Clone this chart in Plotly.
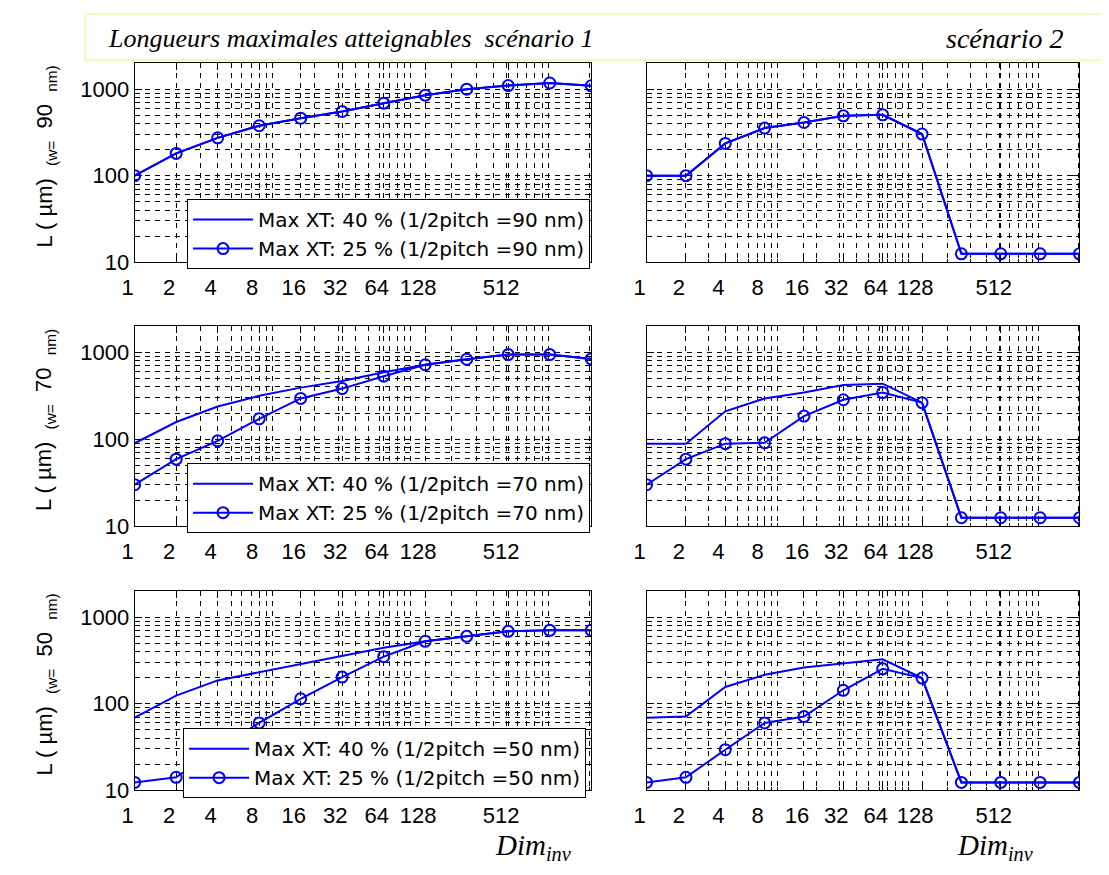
import plotly.graph_objects as go

# ---------------- data ----------------
dim_inv = [1, 2, 4, 8, 16, 32, 64, 128, 256, 512, 1024, 2048]
xtick_vals = [1, 2, 4, 8, 16, 32, 64, 128, 512]
xtick_text = ["1", "2", "4", "8", "16", "32", "64", "128", "512"]
ytick_vals = [10, 100, 1000]
ytick_text = ["10", "100", "1000"]
pitches = [90, 70, 50]

# scenario 1 (left column)
s1_p90_xt40 = [100, 181, 274, 378, 462, 552, 689, 853, 1000, 1100, 1180, 1095]
s1_p90_xt25 = [100, 181, 274, 378, 462, 552, 689, 853, 1000, 1100, 1180, 1095]
s1_p70_xt40 = [90, 158, 238, 316, 393, 467, 590, 720, 833, 942, 942, 841]
s1_p70_xt25 = [30, 59, 96, 172, 295, 383, 532, 720, 833, 942, 942, 841]
s1_p50_xt40 = [69, 124, 186, 230, 286, 356, 443, 527, 601, 687, 705, 705]
s1_p50_xt25 = [12.3, 14.1, 30, 60, 114, 203, 350, 527, 601, 687, 705, 705]

# scenario 2 (right column)
s2_p90_xt40 = [100, 100, 236, 355, 412, 492, 505, 303, 12.5, 12.5, 12.5, 12.5]
s2_p90_xt25 = [100, 100, 236, 355, 412, 492, 505, 303, 12.5, 12.5, 12.5, 12.5]
s2_p70_xt40 = [89, 89, 210, 295, 345, 421, 436, 264, 12.5, 12.5, 12.5, 12.5]
s2_p70_xt25 = [30, 59, 89, 91, 185, 285, 345, 264, 12.5, 12.5, 12.5, 12.5]
s2_p50_xt40 = [69, 71, 156, 216, 262, 294, 326, 198, 12.3, 12.3, 12.3, 12.3]
s2_p50_xt25 = [12.3, 14.1, 29.4, 60, 71, 143, 253, 198, 12.3, 12.3, 12.3, 12.3]

series = [
    (s1_p90_xt40, s1_p90_xt25, s2_p90_xt40, s2_p90_xt25),
    (s1_p70_xt40, s1_p70_xt25, s2_p70_xt40, s2_p70_xt25),
    (s1_p50_xt40, s1_p50_xt25, s2_p50_xt40, s2_p50_xt25),
]

# ---------------- layout helpers ----------------
W, H = 1109, 875
BLUE = "#0000ff"
SANS = "Liberation Sans, Arial, sans-serif"
LEGF = "DejaVu Sans, Liberation Sans, sans-serif"
SERIF = "Liberation Serif, Times New Roman, serif"
NB = "\u00a0"

col_px = [(115, 577), (633, 1071)]
row_px = [(56, 258), (323, 526), (592, 794)]
leg_px = [(168, 194), (168, 462), (164, 731)]


def px_x(p):
    return p / W


def px_y(p):
    return 1 - p / H


x_minor = [n * 10 ** k for k in range(0, 4) for n in range(1, 10) if n * 10 ** k <= 2048]
y_minor = [n * 10 ** k for k in range(1, 4) for n in range(1, 10) if n * 10 ** k <= 2000]

DASH = "5px,5px"
grid_common = dict(
    showline=True, linecolor="black", linewidth=1, mirror="ticks",
    ticks="inside", ticklen=7, tickcolor="black", tickwidth=1,
    showgrid=True, gridcolor="black", gridwidth=1, griddash=DASH,
    zeroline=False, type="log",
    tickfont=dict(family=SANS, size=22, color="black"),
)

fig = go.Figure()
layout = {}

for r in range(3):
    for c in range(2):
        idx = r * 2 + c + 1
        xname = "xaxis" if idx == 1 else f"xaxis{idx}"
        yname = "yaxis" if idx == 1 else f"yaxis{idx}"
        xref = "x" if idx == 1 else f"x{idx}"
        yref = "y" if idx == 1 else f"y{idx}"
        x0, x1 = col_px[c]
        y0, y1 = row_px[r]
        layout[xname] = dict(
            grid_common,
            domain=[px_x(x0), px_x(x1)], anchor=yref,
            range=[0, 3.3113],
            tickmode="array", tickvals=xtick_vals, ticktext=xtick_text,
            ticklabelshift=-7, ticklabelstandoff=5,
            minor=dict(tickmode="array", tickvals=x_minor, ticks="inside", ticklen=3,
                       tickcolor="black", showgrid=True, gridcolor="black",
                       griddash=DASH, gridwidth=1),
        )
        layout[yname] = dict(
            grid_common,
            domain=[px_y(y1), px_y(y0)], anchor=xref,
            range=[1, 3.301],
            tickmode="array", tickvals=ytick_vals, ticktext=ytick_text,
            showticklabels=(c == 0),
            minor=dict(tickmode="array", tickvals=y_minor, ticks="inside", ticklen=3,
                       tickcolor="black", showgrid=True, gridcolor="black",
                       griddash=DASH, gridwidth=1),
        )
        xt40, xt25 = series[r][2 * c], series[r][2 * c + 1]
        legname = "legend" if r == 0 else f"legend{r + 1}"
        fig.add_trace(go.Scatter(
            x=dim_inv, y=xt40, mode="lines", xaxis=xref, yaxis=yref,
            line=dict(color=BLUE, width=2),
            name=f"Max XT: 40 % (1/2pitch ={pitches[r]} nm)",
            legend=legname, showlegend=(c == 0),
        ))
        fig.add_trace(go.Scatter(
            x=dim_inv, y=xt25, mode="lines+markers", xaxis=xref, yaxis=yref,
            line=dict(color=BLUE, width=2),
            marker=dict(symbol="circle-open", size=11, color=BLUE,
                        line=dict(color=BLUE, width=2)),
            name=f"Max XT: 25 % (1/2pitch ={pitches[r]} nm)",
            legend=legname, showlegend=(c == 0),
        ))

for r in range(3):
    legname = "legend" if r == 0 else f"legend{r + 1}"
    lx, ly = leg_px[r]
    layout[legname] = dict(
        x=px_x(lx), y=px_y(ly), xanchor="left", yanchor="top",
        bgcolor="white", bordercolor="black", borderwidth=1,
        font=dict(family=LEGF, size=20, color="black"),
        itemwidth=60, tracegroupgap=0,
    )

annotations = []
# title box text
annotations.append(dict(
    x=px_x(86), y=px_y(31), xref="paper", yref="paper", xanchor="left", yanchor="middle",
    text="<i>Longueurs maximales atteignables" + NB + " scénario 1</i>", showarrow=False,
    font=dict(family=SERIF, size=26, color="black"),
))
annotations.append(dict(
    x=px_x(1056), y=px_y(31), xref="paper", yref="paper", xanchor="right", yanchor="middle",
    text="<i>scénario 2</i>", showarrow=False,
    font=dict(family=SERIF, size=28, color="black"),
))
# y labels
for r in range(3):
    y0, y1 = row_px[r]
    annotations.append(dict(
        x=px_x(25), y=px_y((y0 + y1) / 2 - 6), xref="paper", yref="paper",
        xanchor="center", yanchor="middle", textangle=-90, showarrow=False,
        text=f"L ( µm){NB}{NB}<sub>(w=</sub>{NB} {pitches[r]} {NB}<sub>nm)</sub>",
        font=dict(family=SANS, size=22, color="black"),
    ))
# x labels
for c, cx in enumerate([518, 986]):
    annotations.append(dict(
        x=px_x(cx), y=px_y(852), xref="paper", yref="paper",
        xanchor="center", yanchor="middle", showarrow=False,
        text="<i>Dim<sub>inv</sub></i>",
        font=dict(family=SERIF, size=29, color="black"),
    ))

shapes = [dict(
    type="rect", xref="paper", yref="paper",
    x0=px_x(65), x1=px_x(1109), y0=px_y(53), y1=px_y(6),
    line=dict(color="#f4f4b0", width=1.5), fillcolor="rgba(0,0,0,0)", layer="below",
)]

fig.update_layout(
    **layout,
    width=W, height=H,
    margin=dict(l=0, r=0, t=0, b=0),
    paper_bgcolor="white", plot_bgcolor="white",
    annotations=annotations, shapes=shapes,
    font=dict(family=SANS, color="black"),
)

fig.write_html("out.html")
